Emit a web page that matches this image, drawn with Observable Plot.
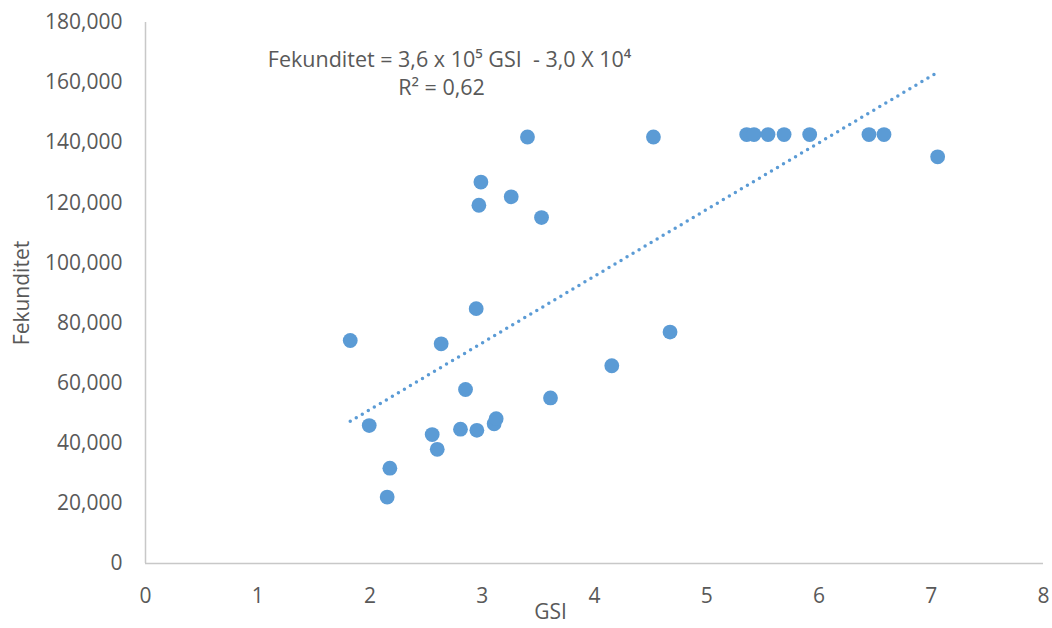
<!DOCTYPE html>
<html>
<head>
<meta charset="utf-8">
<script src="https://cdn.jsdelivr.net/npm/d3@7"></script>
<script src="https://cdn.jsdelivr.net/npm/@observablehq/plot@0.6"></script>
<style>
  html, body { margin: 0; padding: 0; background: #fff; }
</style>
</head>
<body>
<div id="chart"></div>
<script>
const gsi = [1.824, 1.993, 2.177, 2.153, 2.634, 2.851, 2.554, 2.599, 2.806, 2.952,
             3.106, 3.124, 3.608, 4.154, 4.673, 3.403, 4.525, 2.988, 2.970, 3.258,
             3.528, 2.946, 5.356, 5.421, 5.546, 5.689, 5.917, 6.445, 6.579, 7.057];
const fekunditet = [74200, 45900, 31700, 22100, 73100, 57900, 42900, 38000, 44700, 44300,
                    46500, 48200, 55100, 65800, 77000, 141900, 141900, 126900, 119200, 122000,
                    115100, 84800, 142700, 142700, 142700, 142700, 142700, 142700, 142700, 135300];
const xTicks = [0, 1, 2, 3, 4, 5, 6, 7, 8];
const yTicks = [0, 20000, 40000, 60000, 80000, 100000, 120000, 140000, 160000, 180000];
const xTitle = "GSI";
const yTitle = "Fekunditet";
const equationLine1 = "Fekunditet = 3,6 x 10\u2075 GSI  - 3,0 X 10\u2074";
const equationLine2 = "R\u00B2 = 0,62";

const data = gsi.map((g, i) => ({gsi: g, fek: fekunditet[i]}));
const blue = "#5b9bd5";
const axisGray = "#c8c8c8";
const textGray = "#595959";

const chart = Plot.plot({
  width: 1052,
  height: 628,
  marginLeft: 145,
  marginRight: 9,
  marginTop: 22,
  marginBottom: 65,
  x: {domain: [0, 8]},
  y: {domain: [0, 180000]},
  style: {fontFamily: "'Open Sans', sans-serif", fontSize: "21px", color: textGray, background: "#fff"},
  marks: [
    Plot.ruleY([0], {stroke: axisGray, strokeWidth: 1.5}),
    Plot.ruleX([0], {stroke: axisGray, strokeWidth: 1.5}),
    Plot.axisX({ticks: xTicks, tickSize: 0, tickPadding: 25, label: null, fill: textGray}),
    Plot.axisY({ticks: yTicks, tickSize: 0, tickPadding: 23, label: null, tickFormat: d3.format(","), fill: textGray}),
    Plot.dot(data, {x: "gsi", y: "fek", r: 7.4, fill: blue}),
    Plot.linearRegressionY(data, {x: "gsi", y: "fek", ci: 0, stroke: blue, strokeWidth: 3.5,
      strokeDasharray: "0 7", strokeLinecap: "round"}),
    Plot.text([equationLine1], {frameAnchor: "top-left", dx: 304, dy: 38, textAnchor: "middle",
      lineAnchor: "middle", fontSize: 21.5, fill: textGray}),
    Plot.text([equationLine2], {frameAnchor: "top-left", dx: 296, dy: 66, textAnchor: "middle",
      lineAnchor: "middle", fontSize: 21.5, fill: textGray}),
    Plot.text([xTitle], {frameAnchor: "bottom", dx: -44, dy: 49, lineAnchor: "middle", fontSize: 21, fill: textGray}),
    Plot.text([yTitle], {frameAnchor: "left", dx: -123, rotate: -90, lineAnchor: "middle", textAnchor: "middle", fontSize: 21, fill: textGray})
  ]
});
document.getElementById("chart").appendChild(chart);
</script>
</body>
</html>
